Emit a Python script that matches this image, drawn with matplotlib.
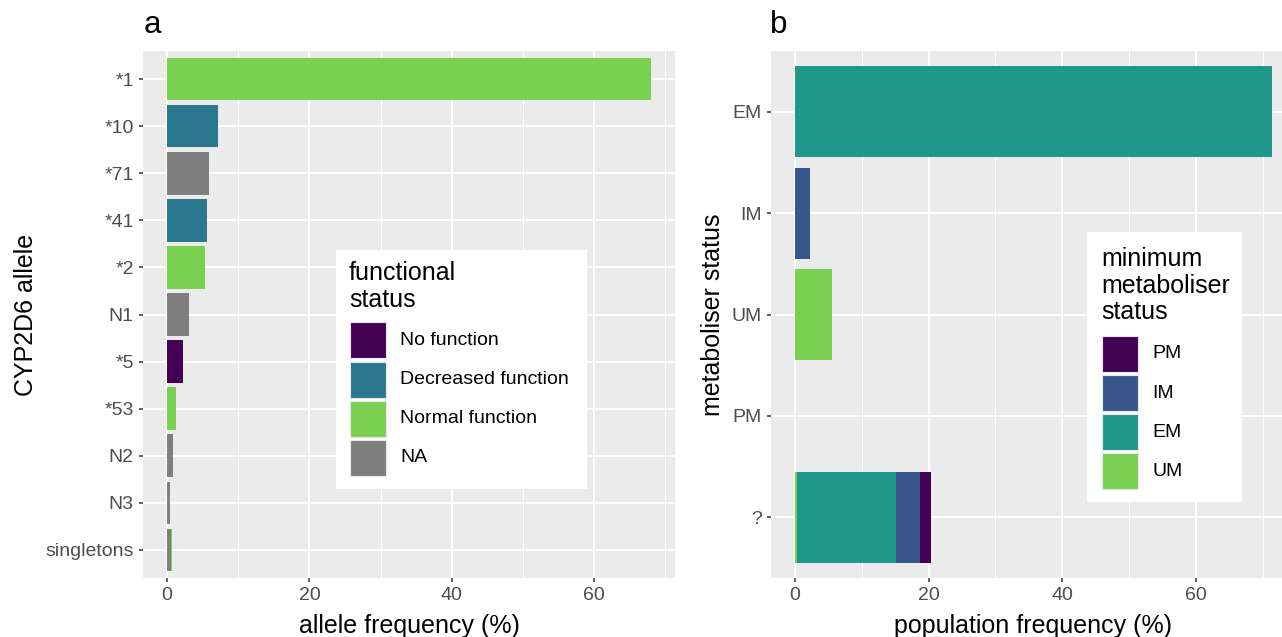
import matplotlib
matplotlib.use("Agg")
import matplotlib.pyplot as plt
from matplotlib.patches import Rectangle
import numpy as np

# ---------------- data ----------------
alleles = ["*1", "*10", "*71", "*41", "*2", "N1", "*5", "*53", "N2", "N3", "singletons"]
# allele frequency (%) by functional status (stacked)
freq_na = [0, 0, 5.87, 0, 0, 3.0, 0, 0, 0.84, 0.42, 0.56]
freq_normal = [68.0, 0, 0, 0, 5.3, 0, 0, 1.22, 0, 0, 0.16]
freq_decreased = [0, 7.2, 0, 5.55, 0, 0, 0, 0, 0, 0, 0]
freq_nofunc = [0, 0, 0, 0, 0, 0, 2.17, 0, 0, 0, 0]
func_labels = ["No function", "Decreased function", "Normal function", "NA"]

met_status = ["EM", "IM", "UM", "PM", "?"]
# population frequency (%) by minimum metaboliser status (stacked)
pop_um = [0, 0, 5.5, 0, 0.3]
pop_em = [71.4, 0, 0, 0, 14.8]
pop_im = [0, 2.2, 0, 0, 3.6]
pop_pm = [0, 0, 0, 0, 1.7]
min_labels = ["PM", "IM", "EM", "UM"]

# ---------------- style ----------------
W, H = 1282, 637
DPI = 100
cmap = plt.get_cmap("viridis")
col_func = {"No function": cmap(0.0), "Decreased function": cmap(0.4),
            "Normal function": cmap(0.8), "NA": "#7F7F7F"}
col_min = {"PM": cmap(0.0), "IM": cmap(0.2667), "EM": cmap(0.5333), "UM": cmap(0.8)}

plt.rcParams["font.family"] = ["Liberation Sans", "DejaVu Sans"]
TICK_FS = 14
TITLE_FS = 18
PANEL_FS = 22.5

fig = plt.figure(figsize=(W / DPI, H / DPI), dpi=DPI)


def fx(x):
    return x / W


def fy(y):
    return 1 - y / H


def style_axes(ax, xmajor, xminor):
    ax.set_facecolor("#EBEBEB")
    for s in ax.spines.values():
        s.set_visible(False)
    ax.set_xticks(xmajor)
    ax.set_xticks(xminor, minor=True)
    ax.grid(True, which="major", color="white", lw=1.5)
    ax.grid(True, which="minor", axis="x", color="white", lw=0.75)
    ax.set_axisbelow(True)
    ax.tick_params(which="major", length=3.2, width=1.1, color="#333333",
                   labelsize=TICK_FS, labelcolor="#4D4D4D", pad=3.5)
    ax.tick_params(which="minor", length=0)


# ---------------- panel a ----------------
axa = fig.add_axes([fx(143), fy(578), fx(675 - 143), (578 - 51) / H])
ya = np.arange(len(alleles))
left = np.zeros(len(alleles))
for vals, lab in [(freq_na, "NA"), (freq_normal, "Normal function"),
                  (freq_decreased, "Decreased function"), (freq_nofunc, "No function")]:
    v = np.array(vals)
    axa.barh(ya, v, left=left, height=0.9, color=col_func[lab], lw=0,
             antialiased=True)
    left += v
axa.set_yticks(ya)
axa.set_yticklabels(alleles)
axa.set_ylim(len(alleles) - 1 + 0.6, -0.6)
axa.set_xlim(-3.4, 71.4)
style_axes(axa, [0, 20, 40, 60], [10, 30, 50, 70])
axa.set_xlabel("allele frequency (%)", fontsize=TITLE_FS, labelpad=7)
axa.set_ylabel("CYP2D6 allele", fontsize=TITLE_FS, labelpad=5)
fig.text(fx(144), fy(33), "a", fontsize=PANEL_FS, ha="left", va="baseline")

# ---------------- panel b ----------------
axb = fig.add_axes([fx(771), fy(578), fx(1296 - 771), (578 - 51) / H])
yb = np.arange(len(met_status))
left = np.zeros(len(met_status))
for vals, lab in [(pop_um, "UM"), (pop_em, "EM"), (pop_im, "IM"), (pop_pm, "PM")]:
    v = np.array(vals)
    axb.barh(yb, v, left=left, height=0.9, color=col_min[lab], lw=0)
    left += v
axb.set_yticks(yb)
axb.set_yticklabels(met_status)
axb.set_ylim(len(met_status) - 1 + 0.6, -0.6)
axb.set_xlim(-3.57, 74.97)
style_axes(axb, [0, 20, 40, 60], [10, 30, 50, 70])
axb.set_xlabel("population frequency (%)", fontsize=TITLE_FS, labelpad=7)
axb.set_ylabel("metaboliser status", fontsize=TITLE_FS, labelpad=5)
fig.text(fx(770), fy(33), "b", fontsize=PANEL_FS, ha="left", va="baseline")


# ---------------- legends (drawn in pixel layout) ----------------
def draw_legend(box, title_lines, title_baselines, title_x, labels, colors,
                key_x, key_tops, key_size, label_x):
    x0, y0, x1, y1 = box
    fig.add_artist(Rectangle((fx(x0), fy(y1)), fx(x1 - x0), (y1 - y0) / H,
                             transform=fig.transFigure, facecolor="white",
                             edgecolor="none", zorder=5))
    for line, b in zip(title_lines, title_baselines):
        fig.text(fx(title_x), fy(b), line, fontsize=TITLE_FS, ha="left",
                 va="baseline", zorder=6)
    for lab, c, t in zip(labels, colors, key_tops):
        fig.add_artist(Rectangle((fx(key_x), fy(t + key_size)), fx(key_size),
                                 key_size / H, transform=fig.transFigure,
                                 facecolor=c, edgecolor="#E8E8E8", lw=0.8,
                                 zorder=6))
        fig.text(fx(label_x), fy(t + key_size / 2), lab, fontsize=TICK_FS,
                 ha="left", va="center", zorder=6)


draw_legend((336, 250, 587, 489), ["functional", "status"], [280, 307], 349,
            func_labels, [col_func[l] for l in func_labels], 349.5,
            [322, 361.5, 400.8, 440], 36, 400)

draw_legend((1087, 232, 1242, 502), ["minimum", "metaboliser", "status"],
            [266, 292.7, 319.3], 1101, min_labels,
            [col_min[l] for l in min_labels], 1101.5,
            [335.5, 375, 414.2, 453.3], 36, 1152)

fig.savefig("out.png", dpi=DPI)
